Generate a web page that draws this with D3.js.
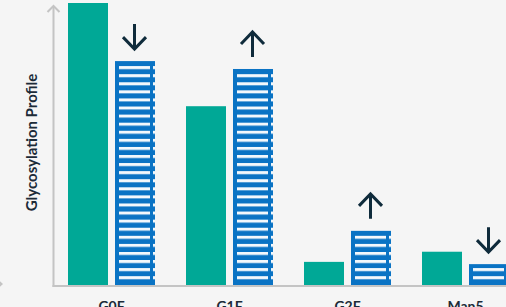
<!DOCTYPE html>
<html><head><meta charset="utf-8">
<script src="https://cdn.jsdelivr.net/npm/d3@7"></script>
<style>html,body{margin:0;padding:0;background:#f5f5f5;overflow:hidden}svg{display:block}</style>
</head><body>
<svg id="c" width="506" height="307"></svg>
<script>
const categories = ["G0F", "G1F", "G2F", "Man5"];
const seriesBefore = [50.0, 31.7, 4.1, 5.9];
const seriesAfter = [39.7, 38.3, 9.6, 3.7];
const changeDirection = ["down", "up", "up", "down"];
const yLabel = "Glycosylation Profile";

const svg = d3.select("#c");
const W = 506, H = 307;
const baseY = 285, topY = 3;
const groupX = d3.scaleLinear().domain([0, 1]).range([68, 186]);
const y = d3.scaleLinear().domain([0, 50]).range([baseY, topY]);
const barW = 40, gap = 7;

svg.append("rect").attr("width", W).attr("height", H).attr("fill", "#f5f5f5");

const defs = svg.append("defs");
const pat = defs.append("pattern").attr("id", "stripes").attr("patternUnits", "userSpaceOnUse")
  .attr("width", 10).attr("height", 8.08).attr("x", 0).attr("y", 276.2 % 8.08);
pat.append("rect").attr("x", 0).attr("y", 0).attr("width", 10).attr("height", 3).attr("fill", "#ffffff").attr("opacity", 0.95);

const gcx = (i) => groupX(i);

// teal bars
svg.selectAll("rect.before").data(categories).enter().append("rect").attr("class", "before")
  .attr("x", (d, i) => gcx(i)).attr("y", (d, i) => y(seriesBefore[i]))
  .attr("width", barW).attr("height", (d, i) => baseY - y(seriesBefore[i]))
  .attr("fill", "#00a896");

// striped bars
const after = svg.selectAll("g.after").data(categories).enter().append("g").attr("class", "after");
after.append("rect")
  .attr("x", (d, i) => gcx(i) + barW + gap).attr("y", (d, i) => y(seriesAfter[i]))
  .attr("width", barW).attr("height", (d, i) => baseY - y(seriesAfter[i]))
  .attr("fill", "#0a73c4");
after.append("rect")
  .attr("x", (d, i) => gcx(i) + barW + gap + 4).attr("y", (d, i) => y(seriesAfter[i]) + 3)
  .attr("width", barW - 9).attr("height", (d, i) => baseY - y(seriesAfter[i]) - 5)
  .attr("fill", "url(#stripes)");
after.append("rect")
  .attr("x", (d, i) => gcx(i) + 2 * barW + gap - 2).attr("y", (d, i) => y(seriesAfter[i]) + 3)
  .attr("width", 2).attr("height", (d, i) => baseY - y(seriesAfter[i]) - 5)
  .attr("fill", "url(#stripes)");

// change arrows
const arrows = svg.selectAll("g.arrow").data(categories).enter().append("g").attr("class", "arrow")
  .attr("transform", (d, i) => `translate(${gcx(i) + barW * 1.5 + gap - 0.5},${y(seriesAfter[i]) - 12})`);
arrows.append("path")
  .attr("d", (d, i) => changeDirection[i] === "down"
    ? "M0,-25 L0,0 M-11.5,-12 L0,0 L11.5,-12"
    : "M0,0 L0,-25 M-11.5,-13 L0,-25 L11.5,-13")
  .attr("fill", "none").attr("stroke", "#0f2b3b").attr("stroke-width", 3)
  .attr("stroke-linecap", "butt").attr("stroke-linejoin", "miter");

// axes
const axisColor = "#c4c4c4";
svg.append("line").attr("x1", 53.5).attr("x2", 53.5).attr("y1", 6).attr("y2", 287).attr("stroke", axisColor).attr("stroke-width", 2);
svg.append("path").attr("d", "M47.5,12 L53.5,6 L59.5,12").attr("fill", "none").attr("stroke", axisColor).attr("stroke-width", 2);
svg.append("line").attr("x1", 52.5).attr("x2", 506).attr("y1", 286).attr("y2", 286).attr("stroke", axisColor).attr("stroke-width", 2);
svg.append("path").attr("d", "M-3,280 L1.5,284 L-3,288").attr("fill", "none").attr("stroke", axisColor).attr("stroke-width", 2);

// category labels
svg.selectAll("text.cat").data(categories).enter().append("text").attr("class", "cat")
  .attr("x", (d, i) => gcx(i) + barW + gap / 2).attr("y", 310.5)
  .attr("text-anchor", "middle").attr("font-family", "Lato, sans-serif").attr("font-weight", 700)
  .attr("font-size", 14).attr("fill", "#1c2b38").text(d => d);

// y label
svg.append("text").attr("transform", "translate(37,142.5) rotate(-90)")
  .attr("text-anchor", "middle").attr("font-family", "Lato, sans-serif").attr("font-weight", 700)
  .attr("font-size", 15).attr("fill", "#1c2b38").text(yLabel);
</script>
</body></html>
